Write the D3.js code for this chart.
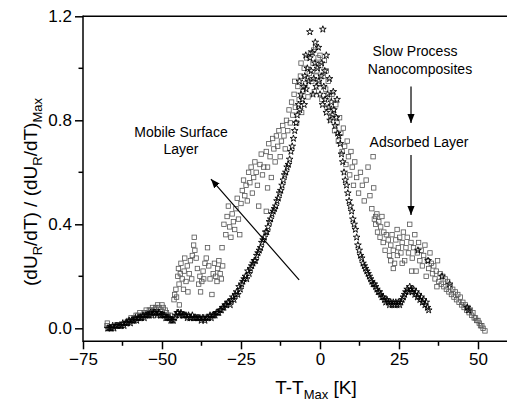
<!DOCTYPE html>
<html>
<head>
<meta charset="utf-8">
<script src="https://cdn.jsdelivr.net/npm/d3@7"></script>
<style>
  body { margin: 0; background: #fff; }
  text { font-family: "Liberation Sans", Arial, sans-serif; fill: #000; }
</style>
</head>
<body>
<div id="chart"></div>
<script>
// tick values
const xTicks = [-75, -50, -25, 0, 25, 50];
const xMinor = [-62.5, -37.5, -12.5, 12.5, 37.5];
const yTicks = [0.0, 0.4, 0.8, 1.2];
const yMinor = [0.2, 0.6, 1.0];

// open squares (grey)
const squares = [
  [-67.4,0.01],[-67.3,0.02],[-60.6,0.03],[-59.8,0.04],[-59.0,0.04],[-58.2,0.05],[-57.6,0.05],[-57.0,0.06],
  [-56.2,0.05],[-55.6,0.06],[-55.0,0.07],[-54.6,0.06],[-54.0,0.07],[-53.4,0.07],[-53.0,0.08],[-52.4,0.07],
  [-52.0,0.08],[-51.4,0.09],[-51.0,0.08],[-50.4,0.07],[-50.0,0.09],[-49.6,0.08],[-49.0,0.07],[-48.6,0.06],
  [-48.0,0.05],[-47.4,0.05],[-44.5,0.09],
  [-46.2,0.11],[-46.0,0.13],[-45.6,0.15],[-45.4,0.12],[-45.0,0.20],[-44.8,0.23],[-44.6,0.17],[-44.2,0.21],
  [-44.0,0.25],[-43.6,0.19],[-43.2,0.15],[-43.0,0.22],[-42.8,0.27],[-42.4,0.18],[-42.0,0.24],[-41.8,0.14],
  [-41.4,0.21],[-41.0,0.26],[-40.6,0.19],[-40.4,0.28],[-40.0,0.32],[-39.8,0.35],[-39.6,0.30],[-39.2,0.27],
  [-38.8,0.23],[-38.4,0.17],[-38.0,0.20],[-37.8,0.14],[-37.4,0.18],[-37.0,0.22],[-36.8,0.19],[-36.4,0.25],
  [-36.0,0.27],[-35.6,0.31],[-35.2,0.24],[-34.8,0.19],[-34.2,0.13],[-33.8,0.21],[-33.4,0.25],[-33.0,0.20],
  [-32.6,0.18],[-32.4,0.23],[-32.0,0.26],[-31.6,0.21],[-31.2,0.19],[-30.8,0.24],
  [-31.0,0.31],[-30.4,0.40],[-29.8,0.36],[-29.4,0.43],[-29.0,0.47],[-28.6,0.39],[-28.2,0.35],[-27.8,0.44],
  [-27.4,0.41],[-27.0,0.38],[-26.6,0.46],[-26.2,0.50],[-25.8,0.42],[-25.4,0.36],[-25.0,0.48],[-24.6,0.53],
  [-24.2,0.57],[-23.8,0.51],[-23.4,0.55],[-23.0,0.49],[-22.6,0.60],[-22.2,0.56],[-21.8,0.62],[-21.4,0.52],
  [-21.0,0.58],[-20.6,0.64],[-20.2,0.60],[-19.8,0.55],[-19.4,0.47],[-19.0,0.63],[-18.6,0.67],[-18.2,0.59],
  [-17.8,0.62],[-17.0,0.45],[-16.6,0.54],
  [-17.0,0.68],[-16.6,0.62],[-16.2,0.71],[-15.8,0.66],[-15.4,0.58],[-15.0,0.73],[-14.6,0.69],[-14.2,0.64],
  [-13.8,0.74],[-13.4,0.70],[-13.0,0.76],[-12.6,0.66],[-12.2,0.72],[-11.8,0.78],[-11.4,0.74],[-11.0,0.69],
  [-10.6,0.80],[-10.2,0.76],[-9.8,0.84],[-9.4,0.79],[-9.0,0.87],[-8.6,0.82],[-8.2,0.90],[-7.8,0.85],
  [-7.4,0.79],[-7.0,0.93],[-6.6,0.88],[-6.2,0.97],[-5.8,0.83],[-5.4,0.91],[-5.0,1.00],[-4.6,0.94],
  [-4.2,1.04],[-3.8,0.89],[-3.4,0.98],[-3.0,1.06],[-2.6,0.95],[-2.2,1.02],[-1.8,0.91],[-1.4,1.08],
  [-1.0,0.99],[-0.6,1.04],[-0.2,0.94],[0.2,1.01],[0.6,0.88],[1.0,0.97],[1.4,1.03],[1.8,0.92],
  [2.2,0.85],[2.6,0.95],[3.0,0.89],[3.4,0.81],[3.8,0.90],[4.2,0.84],[4.6,0.76],[5.0,0.86],
  [5.4,0.79],[5.8,0.72],[6.2,0.81],[6.6,0.75],[7.0,0.68],[7.4,0.77],[7.8,0.70],[8.2,0.63],
  [8.6,0.72],[9.0,0.66],[9.4,0.59],[9.8,0.68],[10.2,0.62],[10.6,0.55],[11.0,0.64],[11.6,0.58],
  [12.2,0.52],[12.8,0.60],[13.4,0.55],[14.0,0.49],[14.6,0.57],[15.2,0.62],[15.8,0.51],[16.4,0.46],
  [17.0,0.54],[17.6,0.43],[16.8,0.66],[-6.0,1.02],[-4.0,0.96],[-2.0,1.07],[0.0,1.05],[-1.2,0.97],
  [2.0,0.99],[-8.0,0.95],
  [17.2,0.42],[17.6,0.40],[18.0,0.44],[18.2,0.37],[18.6,0.41],[19.0,0.35],[19.2,0.39],[19.6,0.43],
  [20.0,0.33],[20.2,0.37],[20.6,0.30],[21.0,0.36],[21.2,0.40],[21.6,0.34],[22.0,0.28],[22.4,0.32],
  [22.8,0.36],[23.2,0.30],[23.6,0.25],[24.0,0.34],[24.4,0.38],[24.8,0.31],[25.2,0.35],[25.6,0.29],
  [26.0,0.33],[26.4,0.37],[26.8,0.26],[27.2,0.31],[27.6,0.35],[28.0,0.29],[28.4,0.40],[28.8,0.33],
  [29.2,0.27],[29.6,0.31],[30.0,0.36],[30.4,0.22],[30.8,0.29],[31.2,0.33],[31.6,0.26],[32.0,0.30],
  [32.4,0.24],[32.8,0.28],[33.2,0.32],[33.6,0.20],[34.0,0.26],[34.4,0.23],[34.8,0.29],[35.2,0.25],
  [35.6,0.21],[36.0,0.24],[36.4,0.19],[36.8,0.22],[37.2,0.26],[37.6,0.18],[38.0,0.21],[38.4,0.17],
  [38.8,0.20],[39.2,0.16],[39.6,0.19],[40.0,0.15],[40.4,0.18],[40.8,0.14],[41.2,0.16],[41.6,0.13],
  [42.0,0.15],[42.4,0.12],[42.8,0.14],[43.2,0.11],[43.6,0.13],[44.0,0.10],[44.4,0.12],[44.8,0.09],
  [45.2,0.10],[45.6,0.08],[46.0,0.09],[46.4,0.07],[46.8,0.08],[47.2,0.06],[47.6,0.07],[48.0,0.05],
  [48.4,0.06],[48.8,0.04],[49.2,0.04],[49.6,0.03],[50.0,0.03],[50.4,0.02],[50.8,0.01],[51.2,0.01],
  [51.6,0.00],[52.2,-0.01],[22.4,0.26],[29.0,0.22],[37.0,0.16],[24.5,0.28],[26.0,0.25],[23.2,0.23]
];

// small open stars (black)
const stars = [
  [-67.2,0.00],[-66.8,0.00],[-66.4,0.00],[-66.0,0.00],[-65.6,0.01],[-65.2,0.00],[-64.8,0.01],[-64.4,0.01],
  [-64.0,0.01],[-63.6,0.01],[-63.2,0.01],[-62.8,0.01],[-62.4,0.02],[-62.0,0.01],[-61.6,0.02],[-61.2,0.02],
  [-60.8,0.02],[-60.4,0.03],[-60.0,0.02],[-59.6,0.03],[-59.2,0.03],[-58.8,0.03],[-58.4,0.04],[-58.0,0.03],
  [-57.6,0.04],[-57.2,0.04],[-56.8,0.04],[-56.4,0.04],[-56.0,0.05],[-55.6,0.04],[-55.2,0.05],[-54.8,0.05],
  [-54.4,0.05],[-54.0,0.05],[-53.6,0.06],[-53.2,0.05],[-52.8,0.06],[-52.4,0.06],[-52.0,0.06],[-51.6,0.05],
  [-51.2,0.06],[-50.8,0.06],[-50.4,0.05],[-50.0,0.05],[-49.6,0.05],[-49.2,0.05],[-48.8,0.04],[-48.4,0.04],
  [-48.0,0.04],[-47.6,0.04],[-47.2,0.03],[-46.8,0.03],[-46.4,0.03],[-46.0,0.04],[-45.6,0.05],[-45.2,0.06],
  [-44.8,0.06],[-44.4,0.05],[-44.0,0.06],[-43.6,0.05],[-43.2,0.05],[-42.8,0.05],[-42.4,0.05],[-42.0,0.04],
  [-41.6,0.05],[-41.2,0.04],[-40.8,0.04],[-40.4,0.05],[-40.0,0.04],[-39.6,0.04],[-39.2,0.04],[-38.8,0.04],
  [-38.4,0.04],[-38.0,0.04],[-37.6,0.03],[-37.2,0.04],[-36.8,0.04],[-36.4,0.03],[-36.0,0.04],[-35.6,0.04],
  [-35.2,0.04],[-34.8,0.05],[-34.4,0.04],[-34.0,0.05],[-33.6,0.05],[-33.2,0.05],[-32.8,0.06],[-32.4,0.06],
  [-32.0,0.06],[-31.6,0.07],[-31.2,0.07],[-30.8,0.08],[-30.4,0.08],[-30.0,0.09],[-29.6,0.09],[-29.2,0.10],
  [-28.8,0.10],[-28.4,0.09],[-28.0,0.11],[-27.6,0.12],[-27.2,0.11],[-26.8,0.13],[-26.4,0.14],[-26.0,0.13],
  [-25.6,0.16],[-25.2,0.15],[-24.8,0.17],[-24.4,0.18],[-24.0,0.19],[-23.6,0.20],[-23.2,0.19],[-22.8,0.22],
  [-22.4,0.21],[-22.0,0.23],[-21.6,0.24],[-21.2,0.25],[-20.8,0.26],[-20.4,0.26],[-20.0,0.28],[-19.6,0.29],
  [-19.2,0.30],[-18.8,0.31],[-18.4,0.33],[-18.0,0.34],[-17.6,0.35],[-17.2,0.37],[-16.8,0.37],[-16.4,0.39],
  [-16.0,0.41],[-15.6,0.42],[-15.2,0.44],[-14.8,0.45],[-14.4,0.46],[-14.0,0.47],[-13.6,0.49],[-13.2,0.50],
  [-12.8,0.52],[-12.4,0.53],[-12.0,0.55],[-11.6,0.57],[-11.2,0.59],[-10.8,0.60],[-10.4,0.62],
  [-10.0,0.63],[-9.6,0.65],[-9.2,0.68],[-8.8,0.70],[-8.4,0.73],[-8.0,0.76],[-7.6,0.79],[-7.2,0.82],
  [-6.8,0.86],[-6.4,0.84],[-6.0,0.90],[-5.6,0.88],[-5.2,0.93],[-4.8,0.97],[-4.4,0.92],[-4.0,1.00],
  [-3.6,0.95],[-3.2,1.04],[-2.8,0.99],[-2.4,1.06],[-2.0,0.96],[-1.6,1.02],[-1.2,0.93],[-0.8,1.00],
  [-0.4,0.95],[0.0,0.90],[0.4,0.97],[0.8,0.86],[1.2,0.93],[1.6,0.88],[2.0,0.83],[2.4,0.90],
  [2.8,0.85],[3.2,0.80],[3.6,0.87],[4.0,0.82],[4.4,0.84],[4.8,0.78],[5.2,0.81],[5.6,0.75],
  [6.0,0.74],[6.4,0.71],[6.8,0.67],[7.2,0.64],[7.6,0.60],[8.0,0.57],[8.4,0.55],[8.8,0.52],
  [9.2,0.49],[9.6,0.47],[10.0,0.45],[10.4,0.42],[10.8,0.40],[11.2,0.38],[11.6,0.35],[12.0,0.32],
  [12.4,0.30],[12.8,0.28],[13.2,0.27],[13.6,0.25],[14.0,0.24],[14.4,0.23],[14.8,0.22],[15.2,0.21],
  [15.6,0.20],[16.0,0.19],[16.4,0.18],[16.8,0.17],[17.2,0.17],[17.6,0.16],[18.0,0.15],[18.4,0.14],
  [18.8,0.14],[19.2,0.13],[19.6,0.12],[20.0,0.12],[20.4,0.11],[20.8,0.10],[21.2,0.11],[21.6,0.10],
  [22.0,0.09],[22.4,0.10],[22.8,0.09],[23.2,0.10],[23.6,0.09],[24.0,0.10],[24.4,0.09],[24.8,0.10],
  [25.2,0.09],[25.6,0.10],[26.0,0.11],[26.4,0.12],[26.8,0.13],[27.2,0.14],[27.6,0.15],[28.0,0.14],
  [28.4,0.16],[28.8,0.15],[29.2,0.14],[29.6,0.15],[30.0,0.13],[30.4,0.14],[30.8,0.12],[31.2,0.13],
  [31.6,0.11],[32.0,0.12],[32.4,0.10],[32.8,0.11],[33.2,0.09],[33.6,0.10],[34.0,0.08],[34.4,0.07],
  [-3.2,1.14],[0.9,1.15],[-1.5,1.10],[-4.5,1.05],[-0.5,1.08],[2.0,1.05],[1.5,0.99],[-6.5,0.95],
  [3.0,0.96],[-2.2,0.90],[0.5,1.02],[-5.0,0.86],[4.2,0.91],[5.4,0.88],
  [31.0,0.30],[34.2,0.26],[38.6,0.20],[41.0,0.17],[46.6,0.08],[47.0,0.07]
];

const width = 507, height = 404;

const x = d3.scaleLinear().domain([-75, 60]).range([83, 509.6]);
const y = d3.scaleLinear().domain([-0.05, 1.2]).range([341.3, 16.3]);

const svg = d3.select("#chart")
    .append("svg")
    .attr("width", width)
    .attr("height", height);

// top frame line
svg.append("line")
    .attr("x1", x(-75)).attr("x2", x(60))
    .attr("y1", y(1.2)).attr("y2", y(1.2))
    .style("stroke", "#000").style("stroke-width", 1.5);

// Axes
const xAxis = svg.append("g")
    .attr("transform", `translate(0,${y(-0.05)})`)
    .call(d3.axisBottom(x).tickValues(xTicks).tickSize(8).tickPadding(4).tickFormat(d3.format("d")));
xAxis.append("g").selectAll("line")
    .data(xMinor).enter().append("line")
    .attr("x1", d => x(d)).attr("x2", d => x(d))
    .attr("y1", 0).attr("y2", 4.5);

const yAxis = svg.append("g")
    .attr("transform", `translate(${x(-75)},0)`)
    .call(d3.axisLeft(y).tickValues(yTicks).tickSize(8).tickPadding(3).tickFormat(d3.format(".1f")));
yAxis.append("g").selectAll("line")
    .data(yMinor).enter().append("line")
    .attr("x1", 0).attr("x2", -4.5)
    .attr("y1", d => y(d)).attr("y2", d => y(d));

[xAxis, yAxis].forEach(a => {
    a.select(".domain").attr("d", null);
    a.selectAll("line").style("stroke", "#000").style("stroke-width", 1.5);
    a.selectAll("text")
        .style("font-family", "'Liberation Sans', Arial, sans-serif")
        .style("font-size", "17px")
        .style("fill", "#000");
});
svg.append("line")
    .attr("x1", x(-75)).attr("x2", x(60))
    .attr("y1", y(-0.05)).attr("y2", y(-0.05))
    .style("stroke", "#000").style("stroke-width", 1.5);
svg.append("line")
    .attr("x1", x(-75)).attr("x2", x(-75))
    .attr("y1", y(-0.05) + 0.75).attr("y2", y(1.2) - 0.75)
    .style("stroke", "#000").style("stroke-width", 1.5);

// markers
const plot = svg.append("g");

plot.selectAll(".sq")
    .data(squares)
    .enter().append("rect")
    .attr("class", "sq")
    .attr("x", d => x(d[0]) - 2.2)
    .attr("y", d => y(d[1]) - 2.2)
    .attr("width", 4.4)
    .attr("height", 4.4)
    .style("fill", "none")
    .style("stroke", "#555")
    .style("stroke-width", 0.8);

const star = d3.symbol().type(d3.symbolStar).size(14);
plot.selectAll(".st")
    .data(stars)
    .enter().append("path")
    .attr("class", "st")
    .attr("d", star)
    .attr("transform", d => `translate(${x(d[0])},${y(d[1])})`)
    .style("fill", "none")
    .style("stroke", "#000")
    .style("stroke-width", 0.9);

// arrowhead marker
svg.append("defs").append("marker")
    .attr("id", "arrowhead")
    .attr("viewBox", "0 -5 10 10")
    .attr("refX", 10)
    .attr("markerWidth", 9)
    .attr("markerHeight", 9)
    .attr("markerUnits", "userSpaceOnUse")
    .attr("orient", "auto")
    .append("path")
        .attr("d", "M0,-4L10,0L0,4Z")
        .style("fill", "#000");

const arrows = [
    { from: [-6.6, 0.186], to: [-34.5, 0.574] },
    { from: [28.8, 0.93], to: [28.8, 0.79] },
    { from: [28.8, 0.667], to: [28.8, 0.436] }
];
svg.selectAll(".arrow")
    .data(arrows)
    .enter().append("line")
    .attr("class", "arrow")
    .attr("x1", d => x(d.from[0])).attr("y1", d => y(d.from[1]))
    .attr("x2", d => x(d.to[0])).attr("y2", d => y(d.to[1]))
    .attr("marker-end", "url(#arrowhead)")
    .style("stroke", "#000")
    .style("stroke-width", 1.2);

// annotations
const notes = [
    { t: "Mobile Surface", px: 181, py: 137 },
    { t: "Layer", px: 181, py: 154 },
    { t: "Slow Process", px: 415, py: 56 },
    { t: "Nanocomposites", px: 420, py: 74 },
    { t: "Adsorbed Layer", px: 419, py: 147 }
];
svg.selectAll(".note")
    .data(notes)
    .enter().append("text")
    .attr("class", "note")
    .attr("x", d => d.px)
    .attr("y", d => d.py)
    .attr("text-anchor", "middle")
    .style("font-size", "14px")
    .text(d => d.t);

// axis titles
const xt = svg.append("text")
    .attr("x", 316).attr("y", 394)
    .attr("text-anchor", "middle")
    .style("font-size", "19px");
xt.append("tspan").text("T-T");
xt.append("tspan").attr("dy", 5).style("font-size", "13px").text("Max");
xt.append("tspan").attr("dy", -5).text(" [K]");

const yt = svg.append("text")
    .attr("transform", "translate(37,192) rotate(-90)")
    .attr("text-anchor", "middle")
    .style("font-size", "19px");
yt.append("tspan").text("(dU");
yt.append("tspan").attr("dy", 5).style("font-size", "13px").text("R");
yt.append("tspan").attr("dy", -5).text("/dT) / (dU");
yt.append("tspan").attr("dy", 5).style("font-size", "13px").text("R");
yt.append("tspan").attr("dy", -5).text("/dT)");
yt.append("tspan").attr("dy", 5).style("font-size", "13px").text("Max");
</script>
</body>
</html>
